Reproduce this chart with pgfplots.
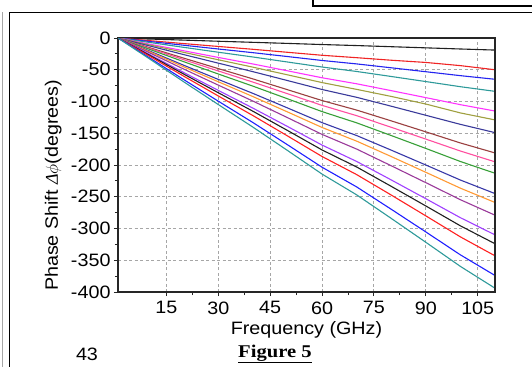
\documentclass[border=0pt]{standalone}
\usepackage{pgfplots}
\pgfplotsset{compat=1.18}
\usepackage{fontspec}
\setmainfont{Liberation Sans}[FakeStretch=1.1]
\newfontfamily\figfont{Liberation Serif}[FakeStretch=1.15]
\newfontfamily\serifit{Liberation Serif}
\definecolor{c1}{HTML}{202020}
\definecolor{c2}{HTML}{F02424}
\definecolor{c3}{HTML}{2424F0}
\definecolor{c4}{HTML}{2E9A9A}
\definecolor{c5}{HTML}{FF33FF}
\definecolor{c6}{HTML}{A0A040}
\definecolor{c7}{HTML}{3A3A9A}
\definecolor{c8}{HTML}{9A4040}
\definecolor{c9}{HTML}{FF4FA0}
\definecolor{c10}{HTML}{38A038}
\definecolor{c11}{HTML}{3838A8}
\definecolor{c12}{HTML}{FF9933}
\definecolor{c13}{HTML}{9A3A9A}
\definecolor{c14}{HTML}{A040FF}
\definecolor{c15}{HTML}{202020}
\definecolor{c16}{HTML}{FF2020}
\definecolor{c17}{HTML}{2020FF}
\definecolor{c18}{HTML}{2E9A9A}
\begin{document}
\begin{tikzpicture}
\clip (0,0) rectangle (532bp,-367bp);
\path[use as bounding box] (0,0) rectangle (532bp,-367bp);
\fill[white] (0,0) rectangle (532bp,-367bp);
% page decorations
\draw[gray!70, line width=0.8bp] (2.5bp,-12bp) -- (2.5bp,-370bp);
\draw[black, line width=1.3bp] (9.5bp,-370bp) -- (9.5bp,-12.5bp) -- (540bp,-12.5bp);
\draw[black, line width=1.3bp] (313bp,2bp) -- (313bp,-6bp) -- (540bp,-6bp);
\node[font=\fontsize{18}{18}\selectfont, anchor=base, inner sep=0pt] at (87bp,-360bp) {43};
\node[font=\figfont\bfseries\fontsize{18}{18}\selectfont, anchor=base] at (275bp,-357bp) {\underline{Figure 5}};
\begin{axis}[
  at={(118bp,-292bp)}, anchor=south west,
  scale only axis, width=377bp, height=254bp,
  xmin=1, xmax=110, ymin=-400, ymax=0,
  xtick={15,30,45,60,75,90,105},
  ytick={0,-50,-100,-150,-200,-250,-300,-350,-400},
  yticklabels={0,-50,-100,-150,-200,-250,-300,-350,-400},
  minor x tick num=1, minor y tick num=1,
  tick align=outside,
  major tick length=4bp, minor tick length=3bp,
  tick style={gray!30!black, line width=0.9bp},
  xtick pos=bottom, ytick pos=left,
  axis line style={gray!30!black, line width=1.1bp},
  grid=major,
  major grid style={gray!70, dash pattern=on 3bp off 2.5bp, line width=0.9bp},
  ticklabel style={font=\fontsize{18}{18}\selectfont},
  /pgf/number format/assume math mode=true,
  xlabel={Frequency (GHz)},
  ylabel={Phase Shift {\serifit\itshape Δ}$\phi$(degrees)},
  label style={font=\fontsize{18}{18}\selectfont},
  xlabel style={at={(axis description cs:0.5,-0.15)}, anchor=center},
  ylabel style={at={(axis description cs:-0.172,0.42)}, anchor=center},
  xticklabel style={yshift=-2bp},
  every axis plot/.append style={line width=1.1bp, no marks},
  after end axis/.code={\draw[gray!30!black, line width=2.6bp] (rel axis cs:1,0) -- (rel axis cs:1,1);},
]
\addplot[c1] coordinates {(1,0)(10,-1.6)(20,-3.3)(30,-5.1)(40,-6.8)(50,-8.5)(60,-10.3)(70,-11.9)(80,-13.7)(90,-15.5)(100,-17.3)(110,-19)};
\addplot[c2] coordinates {(1,0)(10,-4.1)(20,-8.8)(30,-13.3)(40,-17.8)(50,-22.5)(60,-27.2)(70,-31.0)(80,-35.0)(90,-38.5)(100,-43.5)(110,-50)};
\addplot[c3] coordinates {(1,0)(10,-5.4)(20,-11.4)(30,-17.3)(40,-23.1)(50,-29.2)(60,-35.4)(70,-40.8)(80,-46.9)(90,-53.1)(100,-59.3)(110,-65)};
\addplot[c4] coordinates {(1,0)(10,-6.9)(20,-14.7)(30,-22.4)(40,-29.9)(50,-37.8)(60,-45.7)(70,-52.7)(80,-60.6)(90,-68.6)(100,-76.7)(110,-84)};
\addplot[c5] coordinates {(1,0)(10,-9.5)(20,-20.1)(30,-30.6)(40,-40.9)(50,-51.7)(60,-62.6)(70,-72.1)(80,-82.9)(90,-93.9)(100,-105.0)(110,-115)};
\addplot[c6] coordinates {(1,0)(10,-10.7)(20,-22.6)(30,-34.3)(40,-45.9)(50,-58.0)(60,-70.2)(70,-80.9)(80,-92.0)(90,-104.0)(100,-118.0)(110,-129)};
\addplot[c7] coordinates {(1,0)(10,-12.3)(20,-26.1)(30,-39.6)(40,-53.0)(50,-67.0)(60,-81.1)(70,-93.4)(80,-107.4)(90,-121.7)(100,-136.0)(110,-149)};
\addplot[c8] coordinates {(1,0)(10,-15.0)(20,-31.7)(30,-48.2)(40,-64.4)(50,-81.4)(60,-98.5)(70,-113.5)(80,-130.5)(90,-147.8)(100,-165.3)(110,-181)};
\addplot[c9] coordinates {(1,0)(10,-16.1)(20,-34.2)(30,-51.9)(40,-69.4)(50,-87.7)(60,-106.1)(70,-122.3)(80,-140.6)(90,-159.2)(100,-178.0)(110,-195)};
\addplot[c10] coordinates {(1,0)(10,-17.6)(20,-37.3)(30,-56.7)(40,-75.8)(50,-95.7)(60,-115.9)(70,-133.6)(80,-153.6)(90,-173.9)(100,-194.5)(110,-213)};
\addplot[c11] coordinates {(1,0)(10,-20.2)(20,-42.9)(30,-65.2)(40,-87.2)(50,-110.1)(60,-133.3)(70,-153.6)(80,-176.6)(90,-200.0)(100,-223.7)(110,-245)};
\addplot[c12] coordinates {(1,0)(10,-21.4)(20,-45.4)(30,-68.9)(40,-92.2)(50,-116.4)(60,-140.9)(70,-162.4)(80,-186.7)(90,-211.5)(100,-236.5)(110,-259)};
\addplot[c13] coordinates {(1,0)(10,-23.0)(20,-48.9)(30,-74.2)(40,-99.3)(50,-125.4)(60,-151.8)(70,-174.9)(80,-201.2)(90,-227.8)(100,-254.7)(110,-279)};
\addplot[c14] coordinates {(1,0)(10,-25.6)(20,-54.3)(30,-82.5)(40,-110.4)(50,-139.3)(60,-168.6)(70,-194.4)(80,-223.5)(90,-253.1)(100,-283.0)(110,-310)};
\addplot[c15] coordinates {(1,0)(10,-26.8)(20,-56.8)(30,-86.2)(40,-115.3)(50,-145.6)(60,-176.3)(70,-203.1)(80,-233.6)(90,-264.5)(100,-295.8)(110,-324)};
\addplot[c16] coordinates {(1,0)(10,-28.3)(20,-60.1)(30,-91.3)(40,-122.1)(50,-154.2)(60,-186.6)(70,-215.1)(80,-247.3)(90,-280.1)(100,-313.2)(110,-343)};
\addplot[c17] coordinates {(1,0)(10,-30.9)(20,-65.5)(30,-99.5)(40,-133.1)(50,-168.1)(60,-203.5)(70,-234.5)(80,-269.7)(90,-305.4)(100,-341.5)(110,-374)};
\addplot[c18] coordinates {(1,0)(10,-32.5)(20,-69.0)(30,-104.8)(40,-140.3)(50,-177.1)(60,-214.3)(70,-247.0)(80,-284.1)(90,-321.7)(100,-359.7)(110,-394)};
\end{axis}
\end{tikzpicture}
\end{document}
